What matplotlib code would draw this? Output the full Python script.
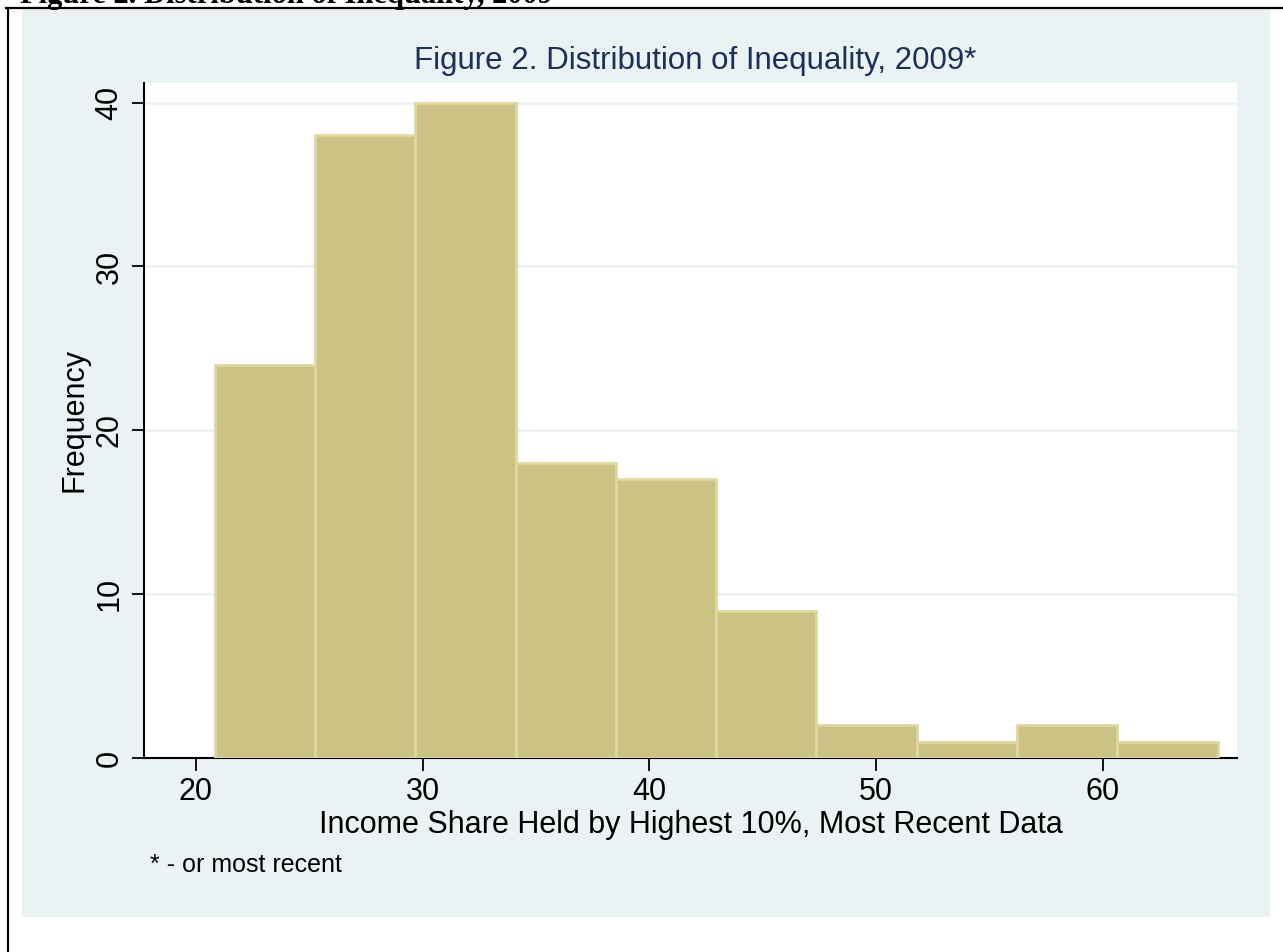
import matplotlib
matplotlib.use("Agg")
import matplotlib.pyplot as plt
from matplotlib.patches import Rectangle
from matplotlib.lines import Line2D
import numpy as np

plt.rcParams['font.family'] = ['Liberation Sans', 'DejaVu Sans']

# Data
bin_edges = [20.84, 25.25, 29.66, 34.11, 38.52, 42.93, 47.34, 51.80, 56.21, 60.62, 65.07]
counts = [24, 38, 40, 18, 17, 9, 2, 1, 2, 1]
x_ticks = [20, 30, 40, 50, 60]
y_ticks = [0, 10, 20, 30, 40]
title = "Figure 2. Distribution of Inequality, 2009*"
doc_title = "Figure 2. Distribution of Inequality, 2009"
xlabel = "Income Share Held by Highest 10%, Most Recent Data"
ylabel = "Frequency"
note = "* - or most recent"

W, H = 1283, 952
fig = plt.figure(figsize=(W / 100, H / 100), dpi=100)
fig.patch.set_facecolor('white')

def fx(px):
    return px / W

def fy(py):
    return 1 - py / H

# background panel
fig.add_artist(Rectangle((fx(22), fy(917)), fx(1270) - fx(22), fy(9) - fy(917),
                         transform=fig.transFigure, facecolor='#EAF2F3',
                         edgecolor='none', zorder=0))
# black border lines
fig.add_artist(Line2D([fx(6), fx(1283)], [fy(8), fy(8)], color='black', lw=1.6,
                      transform=fig.transFigure))
fig.add_artist(Line2D([fx(7.5), fx(7.5)], [fy(8), fy(952)], color='black', lw=1.6,
                      transform=fig.transFigure))
# clipped document title at top (cut off in the source page)
fig.text(fx(20), fy(3), doc_title, family='Liberation Serif', fontweight='bold',
         fontsize=22, ha='left', va='baseline', color='black')

ax = fig.add_axes([fx(144), fy(758), fx(1237) - fx(144), fy(83) - fy(758)])
ax.set_facecolor('white')

edges = np.array(bin_edges)
widths = np.diff(edges)
ax.bar(edges[:-1], counts, width=widths, align='edge', color='#CBC283',
       edgecolor='#DDD8A2', linewidth=2.0, zorder=3)

ax.set_xlim(17.71, 65.91)
ax.set_ylim(0, 41.2)
ax.set_xticks(x_ticks)
ax.set_yticks(y_ticks)
ax.set_yticklabels([str(v) for v in y_ticks], rotation=90, va='center')
ax.tick_params(axis='both', direction='out', length=9, width=1.3,
               labelsize=22, colors='black', pad=5)

for y in y_ticks[1:]:
    ax.axhline(y, color='#EAF2F3', lw=1.8, zorder=1)

for s in ['top', 'right']:
    ax.spines[s].set_visible(False)
for s in ['left', 'bottom']:
    ax.spines[s].set_linewidth(1.5)
    ax.spines[s].set_color('black')

ax.set_xlabel(xlabel, fontsize=22, labelpad=2)
ax.set_ylabel(ylabel, fontsize=22, labelpad=4)

fig.text(fx(695), fy(61), title, fontsize=22.5, color='#1C3058', ha='center', va='center')
fig.text(fx(150), fy(865), note, fontsize=18, color='black', ha='left', va='center')

fig.savefig("out.png", dpi=100, facecolor='white')
